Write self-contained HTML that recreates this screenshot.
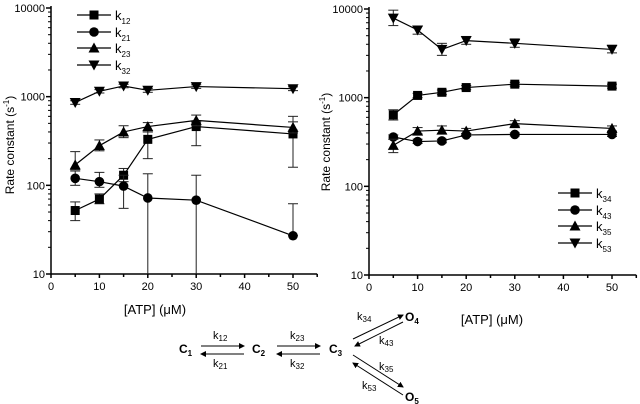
<!DOCTYPE html>
<html><head><meta charset="utf-8"><style>
body{margin:0;background:#fff;}
svg{display:block;font-family:"Liberation Sans",Arial,sans-serif;}
</style></head><body>
<svg id="fig" width="640" height="404" viewBox="0 0 640 404"></svg>
<script>
const xVals=[5,10,15,20,30,50];
const xTicks=[0,10,20,30,40,50];
const yTicks=[10,100,1000,10000];
const leftNames=["k12","k21","k23","k32"];
const k12=[52,70,130,330,460,380];
const k12Lo=[40,62,110,200,280,160];
const k12Hi=[65,80,155,400,520,600];
const k21=[120,110,98,72,68,27];
const k21Lo=[100,95,55,10,10,27];
const k21Hi=[145,140,130,135,130,62];
const k23=[170,280,400,460,540,450];
const k23Lo=[150,245,345,400,470,390];
const k23Hi=[240,325,470,510,620,520];
const k32=[860,1150,1320,1180,1300,1230];
const k32Lo=[820,1100,1260,1120,1240,1170];
const k32Hi=[900,1200,1380,1240,1360,1290];
const rightNames=["k34","k43","k35","k53"];
const k34=[640,1060,1150,1300,1420,1350];
const k34Lo=[560,1000,1080,1230,1350,1280];
const k34Hi=[730,1120,1220,1370,1490,1420];
const k43=[360,320,325,380,385,385];
const k43Lo=[340,305,310,365,370,365];
const k43Hi=[380,340,340,395,400,405];
const k35=[290,420,430,420,510,450];
const k35Lo=[240,390,390,395,480,420];
const k35Hi=[340,460,480,450,550,480];
const k53=[7900,5800,3500,4400,4100,3500];
const k53Lo=[6500,5200,3000,4000,3700,3200];
const k53Hi=[9700,6400,4100,4900,4600,3900];

const NS="http://www.w3.org/2000/svg";
const svg=document.getElementById('fig');
function mk(tag,attrs,parent){const e=document.createElementNS(NS,tag);for(const k in attrs)e.setAttribute(k,attrs[k]);(parent||svg).appendChild(e);return e;}

function marker(g,type,cx,cy){
  let e;
  if(type==='sq'){e=mk('rect',{x:cx-4.5,y:cy-4.5,width:9,height:9,fill:'#000'},g);}
  else if(type==='ci'){e=mk('circle',{cx:cx,cy:cy,r:4.8,fill:'#000'},g);}
  else if(type==='up'){e=mk('polygon',{points:`${cx},${cy-5.5} ${cx-5.5},${cy+4.5} ${cx+5.5},${cy+4.5}`,fill:'#000'},g);}
  else {e=mk('polygon',{points:`${cx},${cy+5.5} ${cx-5.5},${cy-4.5} ${cx+5.5},${cy-4.5}`,fill:'#000'},g);}
  return e;
}

function panel(id,x0,x50,yTop,yBot,series,legendX,legendY){
  const g=mk('g',{});
  
  
  const xs=v=>x0+(x50-x0)*v/50;
  const ys=v=>yBot-(yBot-yTop)*(Math.log10(v)-1)/3;
  // axes
  const ax=mk('g',{stroke:'#000','stroke-width':1.5,fill:'none'},g);
  
  
  mk('line',{x1:x0,y1:yTop-2,x2:x0,y2:yBot},ax);
  mk('line',{x1:x0,y1:yBot,x2:xs(55),y2:yBot},ax);
  for(let d=1;d<=3;d++){for(let m=2;m<=9;m++){const y=ys(m*Math.pow(10,d));mk('line',{x1:x0-3,y1:y,x2:x0,y2:y,'stroke-width':1},ax);}}
  yTicks.forEach(t=>{const y=ys(t);mk('line',{x1:x0-5,y1:y,x2:x0,y2:y},ax);
    const tx=mk('text',{x:x0-6,y:y+4,'text-anchor':'end','font-size':11,fill:'#000',stroke:'none'},g);tx.textContent=t;
    });
  for(let v=0;v<=55;v+=5){const x=xs(v);mk('line',{x1:x,y1:yBot,x2:x,y2:yBot+(v%10===0?4:3)},ax);}
  xTicks.forEach(t=>{const tx=mk('text',{x:xs(t),y:yBot+16,'text-anchor':'middle','font-size':11,fill:'#000'},g);tx.textContent=t;
    });
  // series
  series.forEach((s,si)=>{
    const sg=mk('g',{},g);
    
    
    s.vals.forEach((v,i)=>{const x=xs(xVals[i]);
      const lo=Math.max(s.lo[i],10),hi=s.hi[i];
      mk('line',{x1:x,y1:ys(lo),x2:x,y2:ys(hi),stroke:'#222','stroke-width':1},sg);
      mk('line',{x1:x-5,y1:ys(hi),x2:x+5,y2:ys(hi),stroke:'#222','stroke-width':1},sg);
      if(s.lo[i]>10)mk('line',{x1:x-5,y1:ys(lo),x2:x+5,y2:ys(lo),stroke:'#222','stroke-width':1},sg);});
    const pts=s.vals.map((v,i)=>xs(xVals[i])+','+ys(v)).join(' ');
    const pl=mk('polyline',{points:pts,fill:'none',stroke:'#000','stroke-width':1.2},sg);
    
    
    s.vals.forEach((v,i)=>{const m=marker(sg,s.type,xs(xVals[i]),ys(v));
      
      });
    // legend
    const ly=legendY[si];
    const lg=mk('g',{},g);
    
    
    mk('line',{x1:legendX,y1:ly,x2:legendX+34,y2:ly,stroke:'#000','stroke-width':1.2},lg);
    marker(lg,s.type,legendX+17,ly);
    const t=mk('text',{x:legendX+38,y:ly+5,'font-size':13},lg);
    t.textContent='k';
    const sub=mk('tspan',{'font-size':8,dy:4},t);sub.textContent=s.name.slice(1);
  });
  return {xs,ys};
}
panel('left-chart',51,293,8,274,[
 {name:'k12',type:'sq',vals:k12,lo:k12Lo,hi:k12Hi},
 {name:'k21',type:'ci',vals:k21,lo:k21Lo,hi:k21Hi},
 {name:'k23',type:'up',vals:k23,lo:k23Lo,hi:k23Hi},
 {name:'k32',type:'dn',vals:k32,lo:k32Lo,hi:k32Hi}],77,[15,32,48,65]);
panel('right-chart',369,612,9,275,[
 {name:'k34',type:'sq',vals:k34,lo:k34Lo,hi:k34Hi},
 {name:'k43',type:'ci',vals:k43,lo:k43Lo,hi:k43Hi},
 {name:'k35',type:'up',vals:k35,lo:k35Lo,hi:k35Hi},
 {name:'k53',type:'dn',vals:k53,lo:k53Lo,hi:k53Hi}],558,[193,210,226,243]);
</script>
<svg width="640" height="404" style="position:absolute;left:0;top:0">
<defs><marker id="ah" markerWidth="6" markerHeight="6" refX="5" refY="3" orient="auto"><path d="M0,0 L6,3 L0,6 z" fill="#000"/></marker></defs>
<text x="14" y="145" transform="rotate(-90 14 145)" text-anchor="middle" font-size="12" font-family="Liberation Sans, sans-serif">Rate constant (s<tspan font-size="8" dy="-5">-1</tspan><tspan dy="5">)</tspan></text>
<text x="330" y="142" transform="rotate(-90 330 142)" text-anchor="middle" font-size="12" font-family="Liberation Sans, sans-serif">Rate constant (s<tspan font-size="8" dy="-5">-1</tspan><tspan dy="5">)</tspan></text>
<text x="155" y="314" text-anchor="middle" font-size="13" font-family="Liberation Sans, sans-serif">[ATP] (μM)</text>
<text x="492" y="324" text-anchor="middle" font-size="13" font-family="Liberation Sans, sans-serif">[ATP] (μM)</text>
<g font-family="Liberation Sans, sans-serif">
<g font-weight="bold" font-size="12">
<text x="179" y="353">C<tspan font-size="8" dy="3">1</tspan></text>
<text x="252" y="353">C<tspan font-size="8" dy="3">2</tspan></text>
<text x="329" y="353">C<tspan font-size="8" dy="3">3</tspan></text>
<text x="405" y="321">O<tspan font-size="8" dy="3">4</tspan></text>
<text x="405" y="401">O<tspan font-size="8" dy="3">5</tspan></text>
</g>
<g stroke="#000" stroke-width="1" marker-end="url(#ah)">
<line x1="201" y1="346" x2="244" y2="346"/><line x1="244" y1="354" x2="201" y2="354"/>
<line x1="277" y1="346" x2="320" y2="346"/><line x1="320" y1="354" x2="277" y2="354"/>
<line x1="353" y1="339" x2="403" y2="315"/><line x1="403" y1="322" x2="355" y2="346"/>
<line x1="353" y1="355" x2="403" y2="387"/><line x1="403" y1="395" x2="353" y2="363"/>
</g>
<g font-size="11">
<text x="213" y="339">k<tspan font-size="8" dy="2">12</tspan></text>
<text x="213" y="367">k<tspan font-size="8" dy="2">21</tspan></text>
<text x="290" y="339">k<tspan font-size="8" dy="2">23</tspan></text>
<text x="290" y="367">k<tspan font-size="8" dy="2">32</tspan></text>
<text x="357" y="320">k<tspan font-size="8" dy="2">34</tspan></text>
<text x="379" y="344">k<tspan font-size="8" dy="2">43</tspan></text>
<text x="379" y="370">k<tspan font-size="8" dy="2">35</tspan></text>
<text x="362" y="389">k<tspan font-size="8" dy="2">53</tspan></text>
</g>
</g>
</svg>
</body></html>
